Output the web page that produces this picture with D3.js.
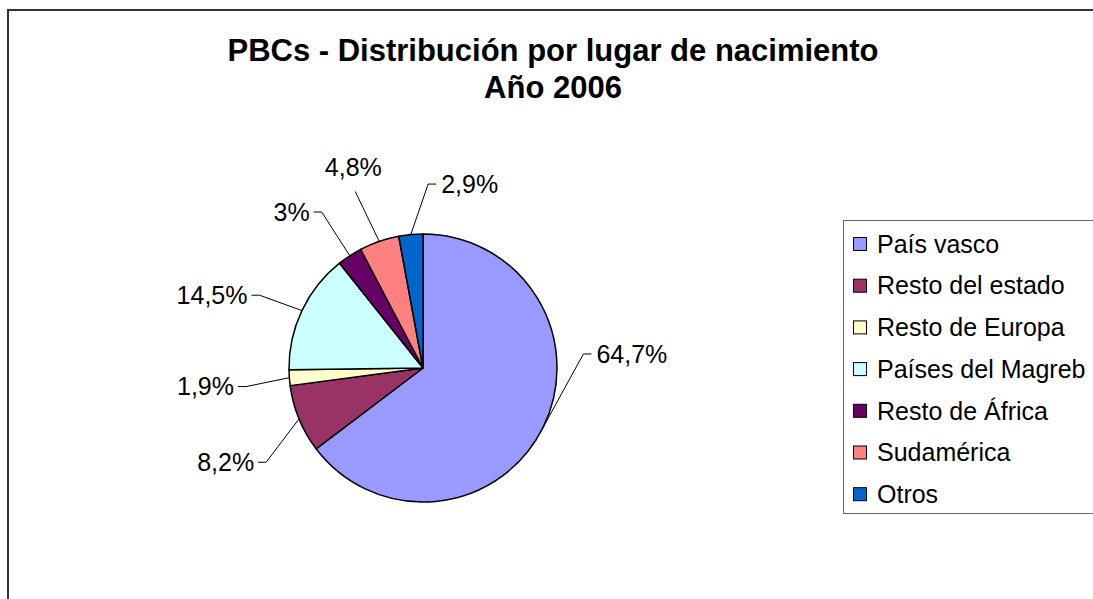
<!DOCTYPE html>
<html>
<head>
<meta charset="utf-8">
<script src="https://cdn.jsdelivr.net/npm/d3@7"></script>
<style>
  body { margin: 0; background: #fff; }
  svg { display: block; font-family: Arial, 'Liberation Sans', sans-serif; }
</style>
</head>
<body>
<svg width="1093" height="599"></svg>
<script>
(function (d3) {
  'use strict';

  // data
  const categories = ['País vasco', 'Resto del estado', 'Resto de Europa', 'Países del Magreb', 'Resto de África', 'Sudamérica', 'Otros'];
  const values = [64.7, 8.2, 1.9, 14.5, 3, 4.8, 2.9];
  const labels = ['64,7%', '8,2%', '1,9%', '14,5%', '3%', '4,8%', '2,9%'];
  const colors = ['#9999ff', '#993366', '#ffffcc', '#ccffff', '#660066', '#ff8080', '#0066cc'];
  const titleLines = ['PBCs - Distribución por lugar de nacimiento', 'Año 2006'];

  // where Excel put each label elbow (degrees clockwise from top, distance from centre) and which side the text sits on
  const labelAngle = [85, 239, 264, 294, 327, 339, 1.6];
  const labelDist = [161, 183, 178, 179, 186, 189, 184];
  const labelSide = ['right', 'left', 'left', 'left', 'left', 'top', 'right'];

  const svg = d3.select('svg');
  const cx = 423, cy = 368, radius = 134;

  // chart area frame (runs off the right and bottom edges)
  svg.append('rect')
    .attr('x', 8).attr('y', 10)
    .attr('width', 1200).attr('height', 700)
    .attr('fill', '#fff')
    .attr('stroke', '#333')
    .attr('stroke-width', 2);

  // title
  svg.append('text')
    .attr('x', 553).attr('y', 61)
    .attr('text-anchor', 'middle')
    .attr('font-weight', 'bold')
    .attr('font-size', 31)
    .selectAll('tspan').data(titleLines)
    .enter().append('tspan')
      .attr('x', 553)
      .attr('dy', (d, i) => i === 0 ? 0 : 37)
      .text(d => d);

  const data = categories.map((c, i) => ({ name: c, value: values[i], label: labels[i], color: colors[i] }));

  const pie = d3.pie().sort(null).value(d => d.value);
  const arcs = pie(data);
  const arc = d3.arc().innerRadius(0).outerRadius(radius);

  const g = svg.append('g').attr('transform', `translate(${cx},${cy})`);

  g.selectAll('path.slice').data(arcs)
    .enter().append('path')
      .attr('class', 'slice')
      .attr('d', arc)
      .attr('fill', d => d.data.color)
      .attr('stroke', '#000')
      .attr('stroke-width', 1.5)
      .attr('stroke-linejoin', 'round');

  const polar = (deg, r) => {
    const a = deg * Math.PI / 180;
    return [r * Math.sin(a), -r * Math.cos(a)];
  };

  // leader lines + labels
  const lab = g.selectAll('g.lab').data(arcs)
    .enter().append('g')
      .attr('class', 'lab');

  lab.each(function (d, i) {
    const sel = d3.select(this);
    const mid = (d.startAngle + d.endAngle) / 2 * 180 / Math.PI;
    const edge = polar(mid, radius);
    const elbow = polar(labelAngle[i], labelDist[i]);
    const side = labelSide[i];
    const pts = [edge, elbow];
    let tx, ty, anchor;
    if (side === 'left') {
      pts.push([elbow[0] - 8, elbow[1]]);
      tx = elbow[0] - 12; ty = elbow[1]; anchor = 'end';
    } else if (side === 'right') {
      pts.push([elbow[0] + 8, elbow[1]]);
      tx = elbow[0] + 13; ty = elbow[1]; anchor = 'start';
    } else {
      tx = elbow[0] - 2; ty = elbow[1] - 24; anchor = 'middle';
    }
    sel.append('path')
      .attr('d', d3.line()(pts))
      .attr('fill', 'none')
      .attr('stroke', '#000')
      .attr('stroke-width', 1);
    sel.append('text')
      .attr('x', tx).attr('y', ty)
      .attr('dy', '0.35em')
      .attr('text-anchor', anchor)
      .attr('font-size', 25)
      .text(d.data.label);
  });

  // legend
  const legendX = 843, legendY = 220, rowH = 41.7;
  svg.append('rect')
    .attr('x', legendX + 0.5).attr('y', legendY + 0.5)
    .attr('width', 400).attr('height', 293)
    .attr('fill', '#fff')
    .attr('stroke', '#666')
    .attr('stroke-width', 1);

  const rows = svg.selectAll('g.leg').data(data)
    .enter().append('g')
      .attr('class', 'leg')
      .attr('transform', (d, i) => `translate(${legendX},${legendY + 24 + i * rowH})`);

  rows.append('rect')
    .attr('x', 10.5).attr('y', -6.5)
    .attr('width', 13).attr('height', 13)
    .attr('fill', d => d.color)
    .attr('stroke', '#000')
    .attr('stroke-width', 1);

  rows.append('text')
    .attr('x', 34).attr('y', 0)
    .attr('dy', '0.35em')
    .attr('font-size', 25)
    .text(d => d.name);

}(d3));
</script>
</body>
</html>
